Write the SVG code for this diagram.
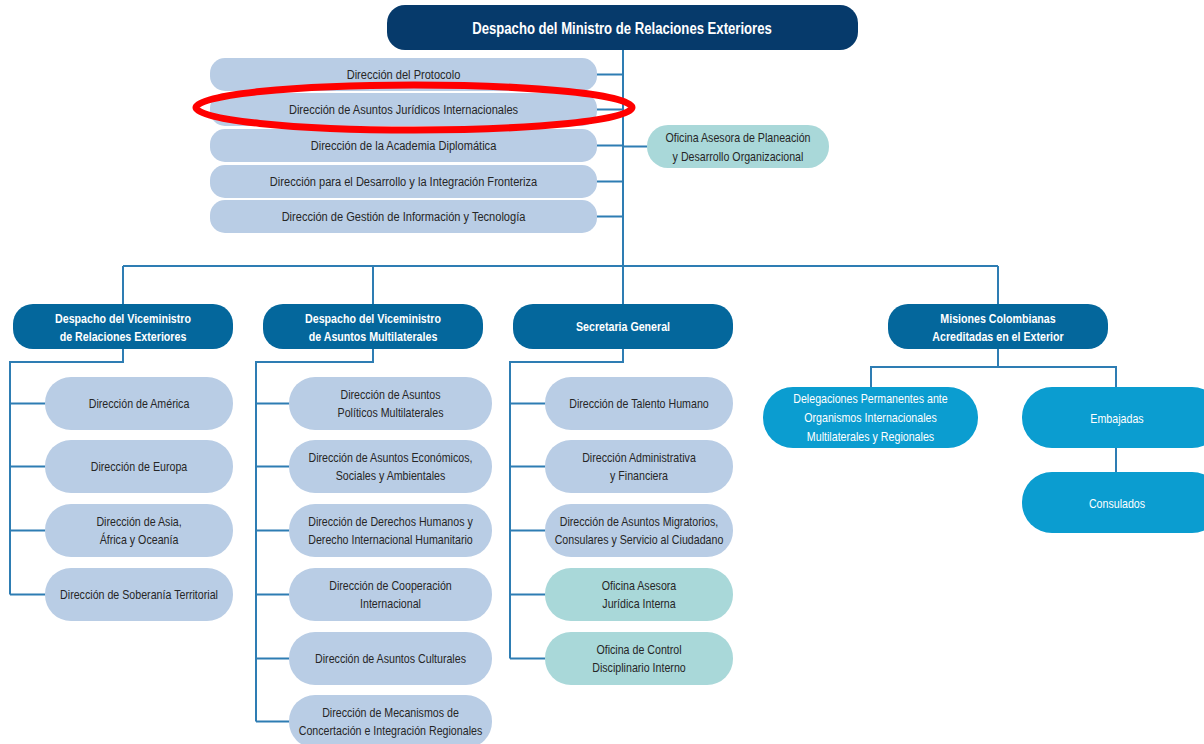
<svg xmlns="http://www.w3.org/2000/svg" width="1204" height="744" viewBox="0 0 1204 744">
<style>
.conn{stroke:#2e7db3;stroke-width:2;fill:none}
.top{fill:#063a6b}
.l2{fill:#04679c}
.lb{fill:#b9cde5}
.tl{fill:#a9d8d9}
.bb{fill:#0b9dd0}
text{font-family:"Liberation Sans",Arial,sans-serif;font-size:13px;fill:#262626;text-anchor:middle}
.w{fill:#ffffff}
.b{font-weight:bold}
.big{font-size:16px}
.mid{font-size:13.5px}
</style>
<rect width="1204" height="744" fill="#ffffff"/>
<g id="connectors">
<path class="conn" d="M623 50V305"/>
<path class="conn" d="M597 74.5H623M597 109.5H623M597 145.5H623M597 181.5H623M597 216.5H623M623 146.5H647"/>
<path class="conn" d="M123 266H998M123 266V304M373 266V304M998 266V304"/>
<path class="conn" d="M123 349V362H10V594.5M10 403.5H45M10 466.5H45M10 530.5H45M10 594.5H45"/>
<path class="conn" d="M373 349V362H256V721.5M256 403.5H289M256 466.5H289M256 530.5H289M256 594.5H289M256 658.5H289M256 721.5H289"/>
<path class="conn" d="M623 349V362H510V658.5M510 403.5H545M510 466.5H545M510 530.5H545M510 594.5H545M510 658.5H545"/>
<path class="conn" d="M998 349V367M871 387V367H1116V387M1116 448V472"/>
</g>
<g id="ministro"><rect class="top" x="387" y="5" width="471" height="45" rx="18"/><text class="w b big" transform="translate(622,34) scale(0.82,1)">Despacho del Ministro de Relaciones Exteriores</text></g>
<g id="protocolo"><rect class="lb" x="210" y="58" width="387" height="33" rx="15"/><text class="mid" transform="translate(403.5,79.2) scale(0.82,1)">Dirección del Protocolo</text></g>
<g id="juridicos"><rect class="lb" x="210" y="93" width="387" height="33" rx="15"/><text class="mid" transform="translate(403.5,114.2) scale(0.82,1)">Dirección de Asuntos Jurídicos Internacionales</text></g>
<g id="academia"><rect class="lb" x="210" y="129" width="387" height="33" rx="15"/><text class="mid" transform="translate(403.5,150.2) scale(0.82,1)">Dirección de la Academia Diplomática</text></g>
<g id="fronteriza"><rect class="lb" x="210" y="165" width="387" height="33" rx="15"/><text class="mid" transform="translate(403.5,186.2) scale(0.82,1)">Dirección para el Desarrollo y la Integración Fronteriza</text></g>
<g id="gestion"><rect class="lb" x="210" y="200" width="387" height="33" rx="15"/><text class="mid" transform="translate(403.5,221.2) scale(0.82,1)">Dirección de Gestión de Información y Tecnología</text></g>
<g id="planeacion"><rect class="tl" x="647" y="125" width="182" height="43" rx="21"/><text transform="translate(738,141.5) scale(0.82,1)"><tspan x="0">Oficina Asesora de Planeación</tspan><tspan x="0" dy="19.5">y Desarrollo Organizacional</tspan></text></g>
<g id="vice-rel"><rect class="l2" x="13" y="304" width="220" height="45" rx="20"/><text class="w b" transform="translate(123,322.5) scale(0.82,1)"><tspan x="0">Despacho del Viceministro</tspan><tspan x="0" dy="19">de Relaciones Exteriores</tspan></text></g>
<g id="vice-mul"><rect class="l2" x="263" y="304" width="220" height="45" rx="20"/><text class="w b" transform="translate(373,322.5) scale(0.82,1)"><tspan x="0">Despacho del Viceministro</tspan><tspan x="0" dy="19">de Asuntos Multilaterales</tspan></text></g>
<g id="secretaria"><rect class="l2" x="513" y="304" width="220" height="45" rx="20"/><text class="w b" transform="translate(623,331) scale(0.82,1)">Secretaria General</text></g>
<g id="misiones"><rect class="l2" x="888" y="304" width="220" height="45" rx="20"/><text class="w b" transform="translate(998,322.5) scale(0.82,1)"><tspan x="0">Misiones Colombianas</tspan><tspan x="0" dy="19">Acreditadas en el Exterior</tspan></text></g>
<g id="america"><rect class="lb" x="45" y="377" width="188" height="53" rx="26"/><text transform="translate(139,408) scale(0.82,1)">Dirección de América</text></g>
<g id="europa"><rect class="lb" x="45" y="440" width="188" height="53" rx="26"/><text transform="translate(139,471) scale(0.82,1)">Dirección de Europa</text></g>
<g id="asia"><rect class="lb" x="45" y="504" width="188" height="53" rx="26"/><text transform="translate(139,525.5) scale(0.82,1)"><tspan x="0">Dirección de Asia,</tspan><tspan x="0" dy="19">África y Oceanía</tspan></text></g>
<g id="soberania"><rect class="lb" x="45" y="568" width="188" height="53" rx="26"/><text transform="translate(139,599) scale(0.82,1)">Dirección de Soberanía Territorial</text></g>
<g id="politicos"><rect class="lb" x="289" y="377" width="203" height="53" rx="26"/><text transform="translate(390.5,398.5) scale(0.82,1)"><tspan x="0">Dirección de Asuntos</tspan><tspan x="0" dy="19">Políticos Multilaterales</tspan></text></g>
<g id="economicos"><rect class="lb" x="289" y="440" width="203" height="53" rx="26"/><text transform="translate(390.5,461.5) scale(0.82,1)"><tspan x="0">Dirección de Asuntos Económicos,</tspan><tspan x="0" dy="19">Sociales y Ambientales</tspan></text></g>
<g id="ddhh"><rect class="lb" x="289" y="504" width="203" height="53" rx="26"/><text transform="translate(390.5,525.5) scale(0.82,1)"><tspan x="0">Dirección de Derechos Humanos y</tspan><tspan x="0" dy="19">Derecho Internacional Humanitario</tspan></text></g>
<g id="cooperacion"><rect class="lb" x="289" y="568" width="203" height="53" rx="26"/><text transform="translate(390.5,589.5) scale(0.82,1)"><tspan x="0">Dirección de Cooperación</tspan><tspan x="0" dy="19">Internacional</tspan></text></g>
<g id="culturales"><rect class="lb" x="289" y="632" width="203" height="53" rx="26"/><text transform="translate(390.5,663) scale(0.82,1)">Dirección de Asuntos Culturales</text></g>
<g id="mecanismos"><rect class="lb" x="289" y="695" width="203" height="53" rx="26"/><text transform="translate(390.5,716.5) scale(0.82,1)"><tspan x="0">Dirección de Mecanismos de</tspan><tspan x="0" dy="19">Concertación e Integración Regionales</tspan></text></g>
<g id="talento"><rect class="lb" x="545" y="377" width="188" height="53" rx="26"/><text transform="translate(639,408) scale(0.82,1)">Dirección de Talento Humano</text></g>
<g id="administrativa"><rect class="lb" x="545" y="440" width="188" height="53" rx="26"/><text transform="translate(639,461.5) scale(0.82,1)"><tspan x="0">Dirección Administrativa</tspan><tspan x="0" dy="19">y Financiera</tspan></text></g>
<g id="migratorios"><rect class="lb" x="545" y="504" width="188" height="53" rx="26"/><text transform="translate(639,525.5) scale(0.82,1)"><tspan x="0">Dirección de Asuntos Migratorios,</tspan><tspan x="0" dy="19">Consulares y Servicio al Ciudadano</tspan></text></g>
<g id="juridica-interna"><rect class="tl" x="545" y="568" width="188" height="53" rx="26"/><text transform="translate(639,589.5) scale(0.82,1)"><tspan x="0">Oficina Asesora</tspan><tspan x="0" dy="19">Jurídica Interna</tspan></text></g>
<g id="disciplinario"><rect class="tl" x="545" y="632" width="188" height="53" rx="26"/><text transform="translate(639,653.5) scale(0.82,1)"><tspan x="0">Oficina de Control</tspan><tspan x="0" dy="19">Disciplinario Interno</tspan></text></g>
<g id="delegaciones"><rect class="bb" x="763" y="387" width="215" height="61" rx="30"/><text class="w" transform="translate(870.5,402.5) scale(0.82,1)"><tspan x="0">Delegaciones Permanentes ante</tspan><tspan x="0" dy="19.5">Organismos Internacionales</tspan><tspan x="0" dy="19.5">Multilaterales y Regionales</tspan></text></g>
<g id="embajadas"><rect class="bb" x="1022" y="387" width="200" height="61" rx="30"/><text class="w" transform="translate(1117,422.5) scale(0.82,1)">Embajadas</text></g>
<g id="consulados"><rect class="bb" x="1022" y="472" width="200" height="61" rx="30"/><text class="w" transform="translate(1117,507.5) scale(0.82,1)">Consulados</text></g>
<ellipse cx="414" cy="107.5" rx="218" ry="22.5" fill="none" stroke="#ff0000" stroke-width="7"/>
</svg>
